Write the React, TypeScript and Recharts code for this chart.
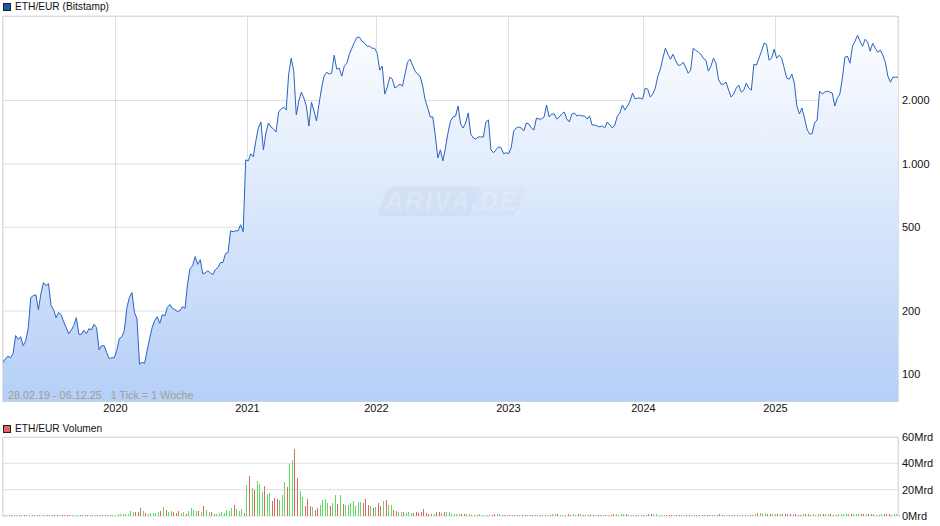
import { Area, Bar, CartesianGrid, BarChart, ComposedChart, XAxis, YAxis } from 'recharts'

// weekly close in EUR
const prices = [
  114, 119, 122, 120, 126, 153, 147, 151, 137, 145, 167, 232, 237, 239, 203, 242, 273, 264, 270, 213,
  203, 186, 197, 192, 178, 167, 156, 162, 171, 186, 155, 155, 162, 156, 165, 163, 173, 167, 131, 137,
  137, 127, 119, 120, 120, 130, 148, 151, 162, 208, 232, 245, 197, 184, 112, 114, 113, 130, 148, 167,
  180, 188, 175, 192, 190, 208, 215, 206, 203, 199, 201, 210, 206, 270, 318, 329, 363, 333, 351, 301,
  304, 311, 304, 298, 315, 322, 340, 340, 375, 379, 481, 476, 481, 481, 514, 476,
  1045, 1033, 1117, 1080, 1285, 1481, 1581, 1166, 1402, 1564, 1497, 1465, 1417, 1764, 1822, 1862, 1802, 2667, 3175, 2756,
  1707, 1987, 2192, 2053, 1883, 1514, 1966, 1782, 1598, 1924, 2290, 2610, 2726, 2667, 2696, 3281, 2817, 2848, 2610, 2911,
  3007, 3317, 3541, 3781, 3993, 3993, 3822, 3740, 3620, 3620, 3541, 3541, 3353, 2786, 2911, 2145, 2315, 2581, 2525, 2290,
  2340, 2391, 2340, 2667, 3040, 3141, 2943, 2756, 2667, 2610, 2340, 2009, 1842, 1670, 1670, 1357, 1068, 1166, 1033, 1192,
  1402, 1598, 1670, 1688, 1883, 1547, 1481, 1564, 1745, 1387, 1328, 1313, 1342, 1342, 1342, 1581, 1616, 1166, 1129, 1166,
  1205, 1192, 1117, 1129, 1117, 1192, 1433, 1481, 1497, 1481, 1433, 1564, 1547, 1481, 1449, 1651, 1633, 1633, 1670, 1904,
  1670, 1725, 1725, 1633, 1670, 1725, 1764, 1633, 1581, 1725, 1745, 1688, 1707, 1688, 1688, 1633, 1688, 1530, 1530, 1514,
  1497, 1514, 1481, 1581, 1530, 1481, 1530, 1688, 1745, 1904, 1802, 1883, 1987,
  2168, 2031, 2053, 2053, 2031, 2290, 2265, 2076, 2145, 2290, 2610, 2817, 3175, 3541, 3317, 3141, 3317, 3107, 2943, 2943,
  3040, 2879, 2696, 2786, 3541, 3465, 3390, 3317, 3175, 3107, 2756, 2911, 3175, 3007, 2525, 2391, 2391, 2444, 2240, 2076,
  2145, 2290, 2365, 2192, 2240, 2418, 2290, 2240, 2975, 2943, 3175, 3427, 3740, 3700, 3107, 3175, 3503, 3175, 3281, 3175,
  2848, 2553, 2525, 2667, 2418, 1883, 1725, 1842, 1651, 1465, 1387, 1387, 1564, 1616, 2216, 2145, 2192, 2216, 2192, 2168,
  1883, 2053, 2145, 2553, 3210, 3245, 3007, 3620, 3822, 4081, 3822, 3620, 3907, 3781, 3427, 3740, 3541, 3390, 3465, 3281,
  3040, 2610, 2444, 2581, 2581, 2581,
]

// weekly volume in Mrd
const volumes = [
  0.4, 0.4, 0.4, 0.4, 0.4, 0.4, 0.4, 0.4, 0.4, 0.4, 0.4, 0.5, 0.5, 0.5, 0.5, 0.5, 0.5, 0.5, 0.5, 0.5,
  0.5, 0.5, 0.5, 0.5, 0.5, 0.5, 0.5, 0.4, 0.4, 0.5, 0.5, 0.4, 0.4, 0.4, 0.4, 0.4, 0.5, 0.4, 0.5, 0.4,
  0.4, 0.5, 1.0, 0.5, 0.5, 1.3, 1.3, 1.3, 1.3, 1.5, 3.5, 2.8, 2.8, 2.8, 5.8, 3.5, 2.0, 1.3, 2.0, 2.0,
  2.0, 2.8, 3.5, 6.6, 4.3, 2.8, 3.5, 2.8, 2.0, 3.5, 2.0, 2.8, 1.3, 3.5, 5.8, 4.3, 3.5, 3.5, 2.8, 7.3,
  4.3, 2.8, 2.8, 1.3, 1.3, 2.0, 2.8, 2.0, 4.3, 3.5, 5.8, 8.1, 5.0, 3.5, 5.0, 2.0,
  23.3, 30.1, 21, 19.5, 26.3, 24, 18, 22.5, 16.4, 17.2, 11.1, 13.4, 12.7, 11.9, 15.7, 25.6, 21.8, 39.2, 42.3, 50.6,
  28.6, 18.7, 14.2, 7.3, 12.7, 7.3, 6.6, 4.3, 5.8, 8.1, 11.9, 12.7, 9.6, 7.3, 9.6, 15.7, 8.9, 15.7, 8.9, 8.1,
  8.1, 9.6, 11.1, 7.3, 10.4, 10.4, 9.6, 12.7, 8.1, 7.3, 5.8, 6.6, 9.6, 7.3, 11.1, 11.9, 8.1, 8.1, 4.3, 3.5,
  2.8, 2.8, 2.8, 2.0, 2.8, 2.0, 2.0, 2.8, 2.0, 2.8, 5.0, 2.0, 1.3, 1.3, 1.3, 2.8, 2.8, 2.0, 2.8, 2.8,
  2.8, 1.8, 1.3, 1.3, 1.3, 1.3, 1.3, 1.3, 1.2, 1.0, 1.0, 0.8, 1.2, 1.0, 0.8, 0.8, 1.0, 1.0, 1.6, 1.4,
  1.6, 1.0, 0.8, 0.8, 0.8, 1.0, 0.8, 0.8, 0.8, 0.8, 0.8, 1.0, 1.0, 1.0, 1.0, 0.8, 0.8, 1.0, 0.8, 0.8,
  0.8, 1.4, 1.6, 1.2, 0.8, 0.8, 1.0, 1.2, 0.8, 1.4, 1.0, 1.2, 1.4, 0.8, 0.8, 1.0, 1.2, 0.8, 0.8, 1.0,
  1.0, 0.8, 0.8, 0.8, 1.0, 1.2, 1.4, 1.0, 1.4, 1.6, 1.2, 1.0, 0.8, 0.8, 0.8, 1.0, 0.8, 0.8, 1.0, 1.2,
  1.6, 1.4, 1.6, 1.0, 0.8, 1.0, 0.8, 0.8, 1.0, 0.8, 1.0, 0.8, 0.8, 0.8, 1.0, 0.8, 0.8, 0.8, 1.0, 0.8,
  0.8, 1.0, 0.8, 0.8, 1.0, 0.8, 0.8, 1.2, 0.8, 0.8, 1.0, 0.8, 0.8, 1.0, 0.8,
  0.8, 0.8, 0.8, 1.0, 1.0, 1.0, 1.6, 2.4, 2.6, 2.4, 2.0, 1.6, 1.4, 1.6, 1.4, 1.4, 1.6, 1.4, 1.8, 1.4,
  1.4, 1.6, 1.4, 1.0, 0.8, 1.2, 1.4, 1.2, 0.8, 1.2, 1.0, 1.2, 1.4, 1.4, 1.2, 1.2, 1.4, 0.8, 0.8, 1.2,
  1.4, 1.2, 1.6, 1.4, 1.2, 1.2, 1.4, 1.2, 1.6, 1.2, 1.2, 1.4, 1.2, 1.2, 1.0, 0.8, 1.2, 1.2, 1.4, 1.2,
  1.0, 1.2, 1.4, 0.8,
]

const yearLabels = ['2020', '2021', '2022', '2023', '2024', '2025']
const yearWeeks = [44.5, 96.71, 147.73, 199.94, 253.34, 305.55]
const priceTicks = [100, 200, 500, 1000, 2000]
const volumeTicks = [0, 20, 40, 60]

const priceRows = prices.map((price, week) => ({ week, price }))
const volumeRows = volumes.map((volume, week) => ({ week, volume }))

const font = '"Liberation Sans", Arial, sans-serif'
const tickStyle = { fontSize: 11, fontFamily: font, fill: '#111' }
const gridStroke = 'rgba(120,130,150,0.26)'

function yearLabel(week: number) {
  return yearLabels[yearWeeks.indexOf(week)] ?? ''
}

// 1px bars snapped to whole pixels, green on an up week and red on a down week
function VolumeBar({ x, y, height, week }: any) {
  const left = Math.round(x + 1)
  const bottom = Math.round(y + height)
  const top = Math.min(Math.round(y), bottom - 1)
  const down = week > 0 && prices[week] < prices[week - 1]
  return <rect x={left} y={top} width={1} height={bottom - top} fill={down ? '#e06666' : '#5fdc5f'} />
}

function Legend({ top, color, label }: { top: number; color: string; label: string }) {
  return (
    <div style={{ position: 'absolute', left: 3, top, display: 'flex', alignItems: 'center', font: `10.2px ${font}`, color: '#111' }}>
      <span style={{ width: 6, height: 6, marginRight: 4, background: color, border: '1px solid #222' }} />
      {label}
    </div>
  )
}

export default function App() {
  return (
    <div style={{ position: 'absolute', left: 0, top: 0, width: 940, height: 526, background: '#fff', overflow: 'hidden' }}>
      <ComposedChart width={940} height={420} data={priceRows} margin={{ top: 16, right: 0, bottom: 0, left: 3 }}>
        <defs>
          <linearGradient id="priceFill" gradientUnits="userSpaceOnUse" x1="0" y1="16" x2="0" y2="401">
            <stop offset="0%" stopColor="#ffffff" />
            <stop offset="100%" stopColor="#b5cff7" />
          </linearGradient>
        </defs>
        <XAxis
          dataKey="week"
          type="number"
          domain={[0, 354]}
          ticks={yearWeeks}
          tickFormatter={yearLabel}
          interval={0}
          height={19}
          axisLine={false}
          tickLine={false}
          tickSize={0}
          tickMargin={3}
          tick={tickStyle}
        />
        <YAxis
          orientation="right"
          scale="log"
          domain={[74.8, 5038]}
          allowDataOverflow
          ticks={priceTicks}
          interval={0}
          width={42}
          axisLine={false}
          tickLine={false}
          tickSize={0}
          tickMargin={4}
          tick={tickStyle}
          tickFormatter={(v: number) => v.toLocaleString('de-DE')}
        />
        <Area
          dataKey="price"
          type="linear"
          baseValue={74.8}
          stroke="#2a62c0"
          strokeWidth={1}
          fill="url(#priceFill)"
          fillOpacity={1}
          dot={false}
          activeDot={false}
          isAnimationActive={false}
        />
        <CartesianGrid stroke={gridStroke} strokeWidth={1} />
      </ComposedChart>

      <BarChart
        width={940}
        height={105}
        data={volumeRows}
        margin={{ top: 16, right: 0, bottom: 10, left: 3 }}
        style={{ position: 'absolute', left: 0, top: 421 }}
      >
        <CartesianGrid stroke={gridStroke} strokeWidth={1} />
        <XAxis dataKey="week" type="number" domain={[0, 354]} ticks={yearWeeks} interval={0} height={0} axisLine={false} tickLine={false} tick={false} />
        <YAxis
          orientation="right"
          domain={[0, 60]}
          ticks={volumeTicks}
          interval={0}
          width={42}
          axisLine={false}
          tickLine={false}
          tickSize={0}
          tickMargin={4}
          tick={tickStyle}
          tickFormatter={(v: number) => `${v}Mrd`}
        />
        <Bar dataKey="volume" barSize={1} isAnimationActive={false} shape={<VolumeBar />} />
      </BarChart>

      {/* plot frames */}
      <div style={{ position: 'absolute', left: 2, top: 16, width: 895, height: 384, border: '1px solid #ddd', borderBottomColor: '#c9d3e3' }} />
      <div style={{ position: 'absolute', left: 2, top: 437, width: 895, height: 79, borderTop: '1px solid #ddd', borderLeft: '1px solid #ddd', borderRight: '1px solid #ddd' }} />

      <Legend top={1} color="#1a56b8" label="ETH/EUR (Bitstamp)" />
      <Legend top={423} color="#e06666" label="ETH/EUR Volumen" />

      <div style={{ position: 'absolute', left: 8, top: 389, font: `10.8px ${font}`, color: '#a39e95', whiteSpace: 'pre' }}>
        28.02.19 - 06.12.25   1 Tick = 1 Woche
      </div>

      {/* watermark */}
      <div style={{ position: 'absolute', left: 382, top: 187, width: 92, height: 29, background: 'rgba(150,170,205,0.13)', transform: 'skewX(-20deg)', borderRadius: '5px 0 0 5px' }} />
      <div style={{ position: 'absolute', left: 474, top: 187, width: 47, height: 29, background: 'rgba(150,170,205,0.07)', transform: 'skewX(-20deg)', borderRadius: '0 5px 5px 0' }} />
      <div style={{ position: 'absolute', left: 385, top: 187, height: 29, font: `italic bold 25px/29px ${font}`, letterSpacing: 2, color: 'rgba(255,255,255,0.22)' }}>
        ARIVA.DE
      </div>
    </div>
  )
}
